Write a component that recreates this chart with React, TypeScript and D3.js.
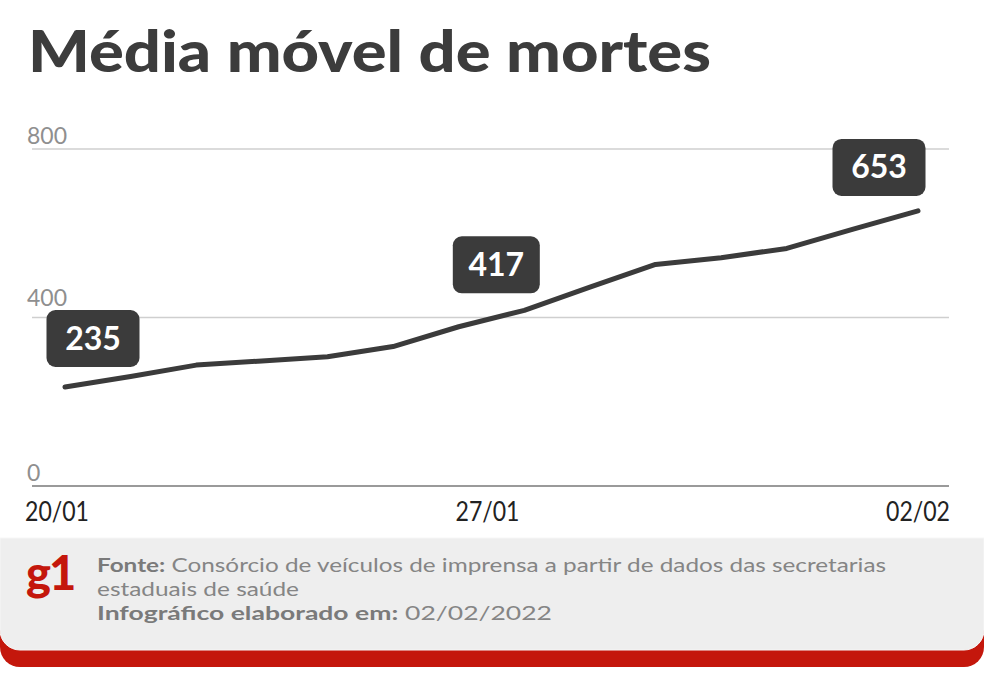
import React from 'react'
import * as d3 from 'd3'

const width = 984
const height = 680

// 7-day moving average of deaths, 20/01 -> 02/02
const days = [
  '20/01', '21/01', '22/01', '23/01', '24/01', '25/01', '26/01',
  '27/01', '28/01', '29/01', '30/01', '31/01', '01/02', '02/02',
]
const deaths = [235, 260, 287, 297, 307, 331, 378, 417, 472, 526, 542, 564, 609, 653]
const yTicks = [0, 400, 800]
const xTicks = ['20/01', '27/01', '02/02']
const highlighted = ['20/01', '27/01', '02/02']

const title = 'Média móvel de mortes'
const sourceLabel = 'Fonte:'
const sourceText = [' Consórcio de veículos de imprensa a partir de dados das secretarias', 'estaduais de saúde']
const madeLabel = 'Infográfico elaborado em:'
const madeText = ' 02/02/2022'

const font = 'Lato, "Open Sans", sans-serif'
const dark = '#3b3b3b'
const red = '#c4170c'

// box offsets around each highlighted point (center x shift, gap above line)
const boxShift = [28, -28, -39]
const boxGap = [20, 17, 15]

export default function App() {
  const x = d3.scalePoint<string>().domain(days).range([65, 918])
  const y = d3.scaleLinear().domain([0, 800]).range([486, 149])
  const xt = d3.scalePoint<string>().domain(xTicks).range([25, 950])

  const line = d3
    .line<number>()
    .x((_, i) => x(days[i]) as number)
    .y((d) => y(d))

  const boxH = 57
  const boxW = (v: number) => (String(v).startsWith('4') ? 87 : 93)

  return (
    <div style={{ position: 'absolute', left: 0, top: 0 }}>
      <svg width={width} height={height} style={{ display: 'block', background: '#fff' }}>
        <text
          x={28}
          y={72}
          fontFamily={font}
          fontWeight={900}
          fontSize={58}
          fill="#3c3c3c"
          textLength={683}
          lengthAdjust="spacingAndGlyphs"
        >
          {title}
        </text>

        {/* grid */}
        {yTicks.map((t) => (
          <g key={t}>
            <line
              x1={32}
              x2={949}
              y1={y(t)}
              y2={y(t)}
              stroke={t === 0 ? '#9a9a9a' : '#cfcfcf'}
              strokeWidth={t === 0 ? 2 : 1.5}
            />
            <text
              x={27}
              y={y(t) - (t === 400 ? 12 : 5)}
              fontFamily={font}
              fontWeight={400}
              fontSize={23}
              fill="#8f8f8f"
            >
              {t}
            </text>
          </g>
        ))}

        {xTicks.map((t, i) => (
          <text
            key={t}
            x={xt(t)}
            y={521}
            textAnchor={i === 0 ? 'start' : i === xTicks.length - 1 ? 'end' : 'middle'}
            fontFamily={font}
            fontSize={27}
            fill="#222"
            textLength={64}
            lengthAdjust="spacingAndGlyphs"
          >
            {t}
          </text>
        ))}

        <path
          d={line(deaths) || ''}
          fill="none"
          stroke={dark}
          strokeWidth={5}
          strokeLinecap="round"
          strokeLinejoin="round"
        />

        {highlighted.map((d, i) => {
          const idx = days.indexOf(d)
          const v = deaths[idx]
          const cx = (x(d) as number) + boxShift[i]
          const bottom = y(v) - boxGap[i]
          const w = boxW(v)
          return (
            <g key={d}>
              <rect x={cx - w / 2} y={bottom - boxH} width={w} height={boxH} rx={9} fill={dark} />
              <text
                x={cx}
                y={bottom - boxH / 2 + 11}
                textAnchor="middle"
                fontFamily={font}
                fontWeight={700}
                fontSize={32}
                fill="#fff"
              >
                {v}
              </text>
            </g>
          )
        })}

        {/* footer */}
        <path d="M0,538 H984 V647 A20,20 0 0 1 964,667 H20 A20,20 0 0 1 0,647 Z" fill={red} />
        <path d="M0,538 H984 V630 A20,20 0 0 1 964,650 H20 A20,20 0 0 1 0,630 Z" fill="#eeeeee" stroke="#f6f6f6" strokeWidth={1} />
        <text x={26} y={590} fontFamily={font} fontWeight={900} fontSize={47} fill={red} letterSpacing={-2}>
          g1
        </text>
        <text x={97} y={572} fontFamily={font} fontSize={19.5} fill="#858585" textLength={789} lengthAdjust="spacingAndGlyphs">
          <tspan fontWeight={700} fill="#7a7a7a">{sourceLabel}</tspan>
          <tspan>{sourceText[0]}</tspan>
        </text>
        <text x={97} y={596} fontFamily={font} fontSize={19.5} fill="#858585" textLength={202} lengthAdjust="spacingAndGlyphs">
          {sourceText[1]}
        </text>
        <text x={97} y={620} fontFamily={font} fontSize={19.5} fill="#858585" textLength={455} lengthAdjust="spacingAndGlyphs">
          <tspan fontWeight={700} fill="#7a7a7a">{madeLabel}</tspan>
          <tspan>{madeText}</tspan>
        </text>
      </svg>
    </div>
  )
}
